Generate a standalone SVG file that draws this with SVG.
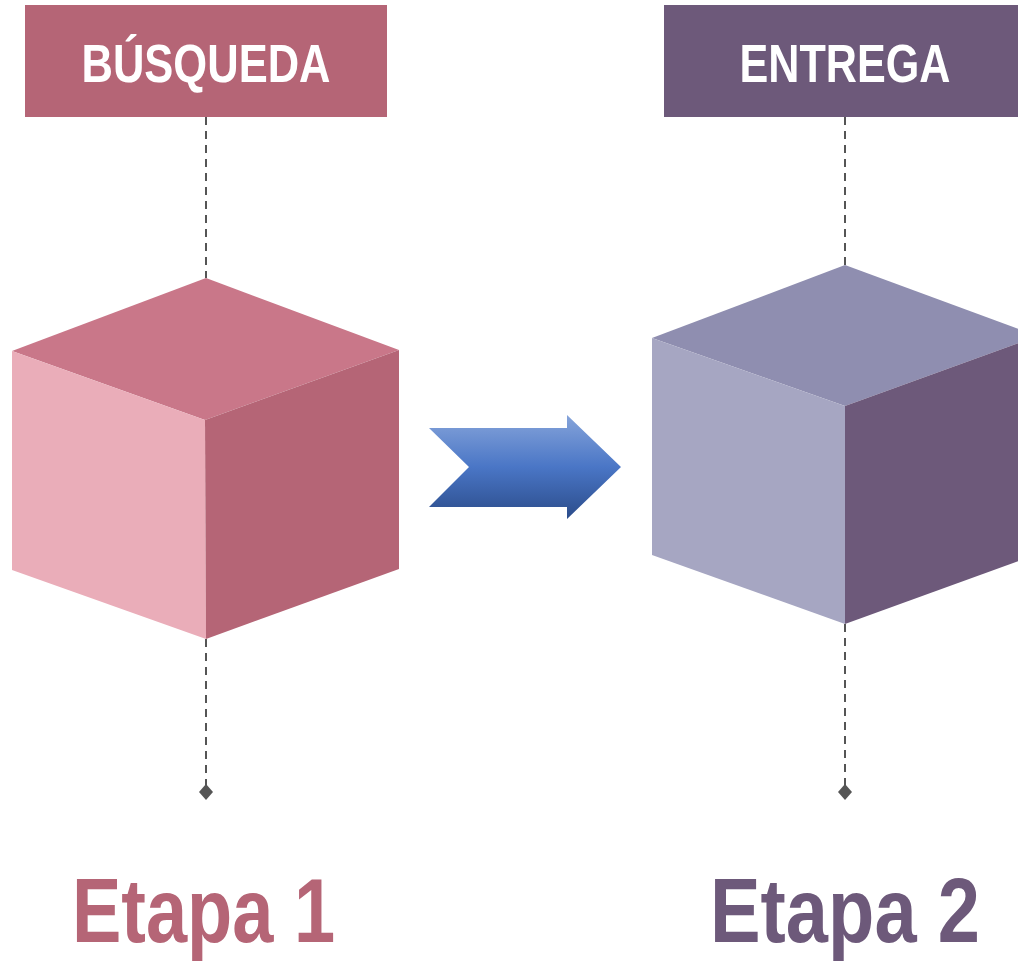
<svg xmlns="http://www.w3.org/2000/svg" width="1018" height="963" viewBox="0 0 1018 963">
  <defs>
    <style>
      .dash { stroke: #555555; stroke-width: 2; stroke-dasharray: 8 6; fill: none; }
      .dot { fill: #555555; }
      .hdr { font-family: "Liberation Sans", Arial, sans-serif; font-weight: bold; font-size: 54px; fill: #ffffff; text-anchor: middle; }
      .stage { font-family: "Liberation Sans", Arial, sans-serif; font-weight: bold; font-size: 90px; }
    </style>
    <linearGradient id="arrowGrad" x1="0" y1="0" x2="0" y2="1">
      <stop offset="0" stop-color="#86a4da"/>
      <stop offset="0.5" stop-color="#4a76c6"/>
      <stop offset="1" stop-color="#2b4c8a"/>
    </linearGradient>
  </defs>

  <g id="connectors">
    <line class="dash" x1="206" y1="117" x2="206" y2="278"/>
    <line class="dash" x1="206" y1="639" x2="206" y2="788"/>
    <path class="dot" d="M206,784 L213,792 L206,800 L199,792 Z"/>
    <line class="dash" x1="845" y1="117" x2="845" y2="265"/>
    <line class="dash" x1="845" y1="624" x2="845" y2="788"/>
    <path class="dot" d="M845,784 L852,792 L845,800 L838,792 Z"/>
    <path id="arrow" fill="url(#arrowGrad)" d="M429,428 L567,428 L567,415 L621,467 L567,519 L567,507 L429,507 L469,467 Z"/>
  </g>

  <g id="header-busqueda">
    <rect x="25" y="5" width="362" height="112" fill="#b56576"/>
    <text class="hdr" x="206" y="82" textLength="249" lengthAdjust="spacingAndGlyphs">BÚSQUEDA</text>
  </g>

  <g id="header-entrega">
    <rect x="664" y="5" width="354" height="112" fill="#6d597a"/>
    <text class="hdr" x="845" y="82" textLength="211" lengthAdjust="spacingAndGlyphs">ENTREGA</text>
  </g>

  <g id="cube-1">
    <path d="M206,278 L399,350 L205,420 L12,351 Z" fill="#c97789"/>
    <path d="M12,351 L205,420 L206,639 L12,570 Z" fill="#eaadb9"/>
    <path d="M205,420 L399,350 L399,569 L206,639 Z" fill="#b56576"/>
  </g>

  <g id="cube-2">
    <path d="M845,265 L1038,336 L845,406 L652,338 Z" fill="#8f8eb0"/>
    <path d="M652,338 L845,406 L845,624 L652,555 Z" fill="#a6a6c2"/>
    <path d="M845,406 L1038,336 L1038,554 L845,624 Z" fill="#6d597a"/>
  </g>

  <g id="label-etapa-1">
    <text class="stage" transform="translate(72,942) scale(0.822,1)" x="0" y="0" fill="#b56576">Etapa 1</text>
  </g>
  <g id="label-etapa-2">
    <text class="stage" transform="translate(710,942) scale(0.843,1)" x="0" y="0" fill="#6d597a">Etapa 2</text>
  </g>
</svg>
